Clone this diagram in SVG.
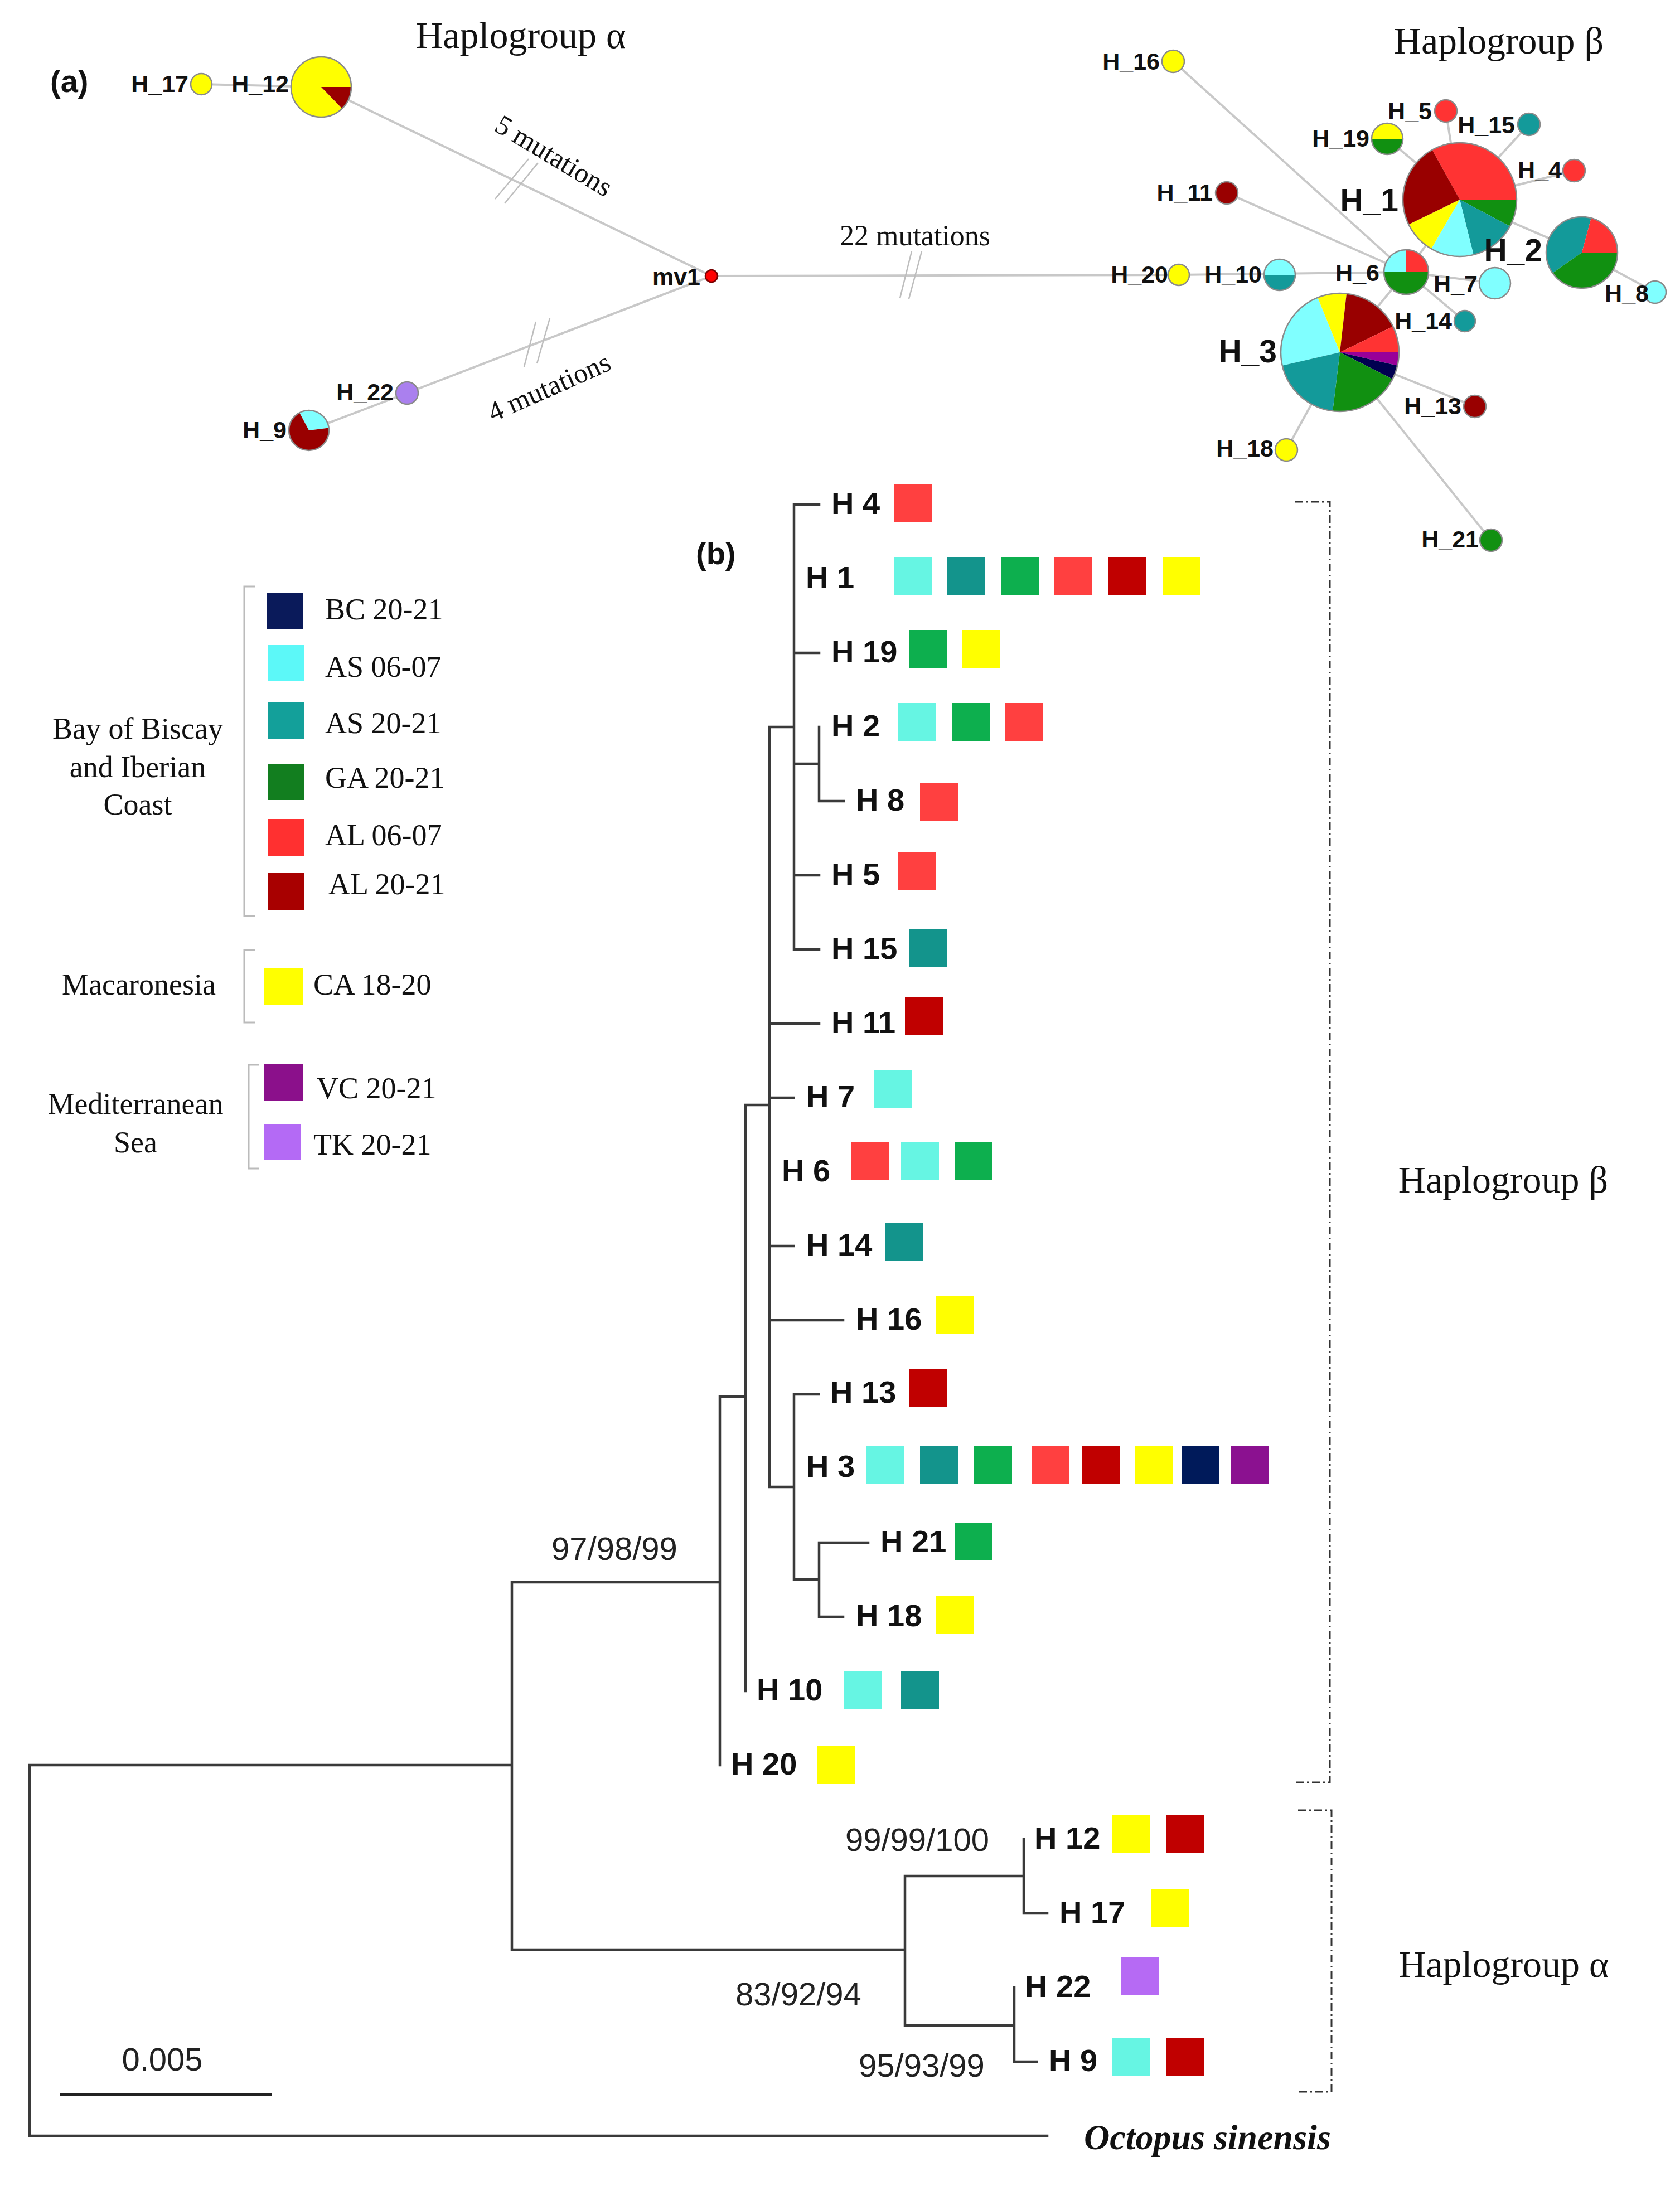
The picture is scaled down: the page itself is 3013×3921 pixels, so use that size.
<svg xmlns="http://www.w3.org/2000/svg" width="3013" height="3921" viewBox="0 0 3013 3921">
<style>
.edge{stroke:#c8c8c8;stroke-width:4;fill:none}
.slash{stroke:#bdbdbd;stroke-width:2.5;fill:none}
.pie{stroke:#8a8a8a;stroke-width:2.5}
.nl{font-family:"Liberation Sans",Arial,sans-serif;font-weight:bold;font-size:43px;fill:#111;text-anchor:end}
.nb{font-family:"Liberation Sans",Arial,sans-serif;font-weight:bold;font-size:57px;fill:#111;text-anchor:end}
.ser{font-family:"Liberation Serif","Times New Roman",serif;fill:#111}
.tl{font-family:"Liberation Sans",Arial,sans-serif;font-weight:bold;font-size:56px;fill:#111}
.bs{font-family:"Liberation Sans",Arial,sans-serif;font-size:58px;fill:#222;text-anchor:middle}
.br{stroke:#3a3a3a;stroke-width:4.5;fill:none;stroke-linecap:square}
.dd{stroke:#333;stroke-width:3;fill:none;stroke-dasharray:14 6 3 6}
.lb{stroke:#bbbbbb;stroke-width:3;fill:none}
.cR{fill:#ff3333}.cD{fill:#990000}.cG{fill:#119011}.cT{fill:#139a9a}.cC{fill:#80ffff}.cY{fill:#ffff00}.cN{fill:#000050}.cP{fill:#990099}.cL{fill:#aa80ee}
.sC{fill:#66f5e3}.sT{fill:#13948c}.sG{fill:#0daf4e}.sR{fill:#ff4040}.sD{fill:#c00000}.sY{fill:#ffff00}.sN{fill:#001a5a}.sP{fill:#8b1190}.sL{fill:#b66af4}
</style>
<rect width="3013" height="3921" fill="#ffffff"/>

<!-- ========== (a) network ========== -->
<text x="90" y="165" font-family="Liberation Sans,Arial,sans-serif" font-weight="bold" font-size="56" fill="#111">(a)</text>
<text class="ser" x="934" y="86" font-size="68" text-anchor="middle">Haplogroup α</text>
<text class="ser" x="2688" y="96" font-size="68" text-anchor="middle">Haplogroup β</text>

<g id="net-edges">
  <line class="edge" x1="361" y1="151" x2="576" y2="156"/>
  <line class="edge" x1="576" y1="156" x2="1276" y2="495"/>
  <line class="edge" x1="1276" y1="495" x2="730" y2="705"/>
  <line class="edge" x1="730" y1="705" x2="554" y2="772"/>
  <line class="edge" x1="1276" y1="495" x2="2114" y2="493"/>
  <line class="edge" x1="2114" y1="493" x2="2522" y2="488"/>
  <line class="edge" x1="2104" y1="110" x2="2522" y2="488"/>
  <line class="edge" x1="2200" y1="346" x2="2522" y2="488"/>
  <line class="edge" x1="2522" y1="488" x2="2618" y2="358"/>
  <line class="edge" x1="2488" y1="249" x2="2618" y2="358"/>
  <line class="edge" x1="2593" y1="199" x2="2618" y2="358"/>
  <line class="edge" x1="2742" y1="223" x2="2618" y2="358"/>
  <line class="edge" x1="2823" y1="306" x2="2618" y2="358"/>
  <line class="edge" x1="2618" y1="358" x2="2837" y2="453"/>
  <line class="edge" x1="2837" y1="453" x2="2968" y2="524"/>
  <line class="edge" x1="2522" y1="488" x2="2681" y2="508"/>
  <line class="edge" x1="2522" y1="488" x2="2627" y2="576"/>
  <line class="edge" x1="2522" y1="488" x2="2403" y2="632"/>
  <line class="edge" x1="2403" y1="632" x2="2645" y2="729"/>
  <line class="edge" x1="2403" y1="632" x2="2307" y2="807"/>
  <line class="edge" x1="2403" y1="632" x2="2674" y2="969"/>
  <!-- mutation break marks -->
  <line class="slash" x1="888" y1="357" x2="948" y2="285"/>
  <line class="slash" x1="905" y1="365" x2="965" y2="292"/>
  <line class="slash" x1="940" y1="658" x2="961" y2="577"/>
  <line class="slash" x1="963" y1="652" x2="986" y2="571"/>
  <line class="slash" x1="1614" y1="535" x2="1635" y2="451"/>
  <line class="slash" x1="1630" y1="536" x2="1653" y2="451"/>
  <text class="ser" font-size="50" text-anchor="middle" transform="translate(993,280) rotate(31)" dy="16">5 mutations</text>
  <text class="ser" font-size="50" text-anchor="middle" transform="translate(985,695) rotate(-24)" dy="16">4 mutations</text>
  <text class="ser" x="1641" y="440" font-size="52" text-anchor="middle">22 mutations</text>
</g>

<g id="net-mv1">
  <circle cx="1276" cy="495" r="11" fill="#ff0000" stroke="#700" stroke-width="2.5"/>
  <text class="nl" x="1256" y="511">mv1</text>
</g>
<g id="net-H_17">
  <circle class="pie cY" cx="361" cy="151" r="19"/>
  <text class="nl" x="338" y="165">H_17</text>
</g>
<g id="net-H_12">
  <path class="cY" d="M576,156 L613.5,194.8 A54,54 0 1,1 630,156 Z"/>
  <path class="cD" d="M576,156 L630,156 A54,54 0 0,1 613.5,194.8 Z"/>
  <circle class="pie" cx="576" cy="156" r="54" fill="none"/>
  <text class="nl" x="518" y="165">H_12</text>
</g>
<g id="net-H_22">
  <circle class="pie cL" cx="730" cy="705" r="20"/>
  <text class="nl" x="706" y="718">H_22</text>
</g>
<g id="net-H_9">
  <path class="cC" d="M554,772 L537.1,740.2 A36,36 0 0,1 589.7,767.6 Z"/>
  <path class="cD" d="M554,772 L589.7,767.6 A36,36 0 1,1 537.1,740.2 Z"/>
  <circle class="pie" cx="554" cy="772" r="36" fill="none"/>
  <text class="nl" x="514" y="786">H_9</text>
</g>

<g id="net-H_16">
  <circle class="pie cY" cx="2104" cy="110" r="20"/>
  <text class="nl" x="2080" y="125">H_16</text>
</g>
<g id="net-H_5">
  <circle class="pie cR" cx="2593" cy="199" r="20"/>
  <text class="nl" x="2568" y="214">H_5</text>
</g>
<g id="net-H_15">
  <circle class="pie cT" cx="2742" cy="223" r="20"/>
  <text class="nl" x="2717" y="239">H_15</text>
</g>
<g id="net-H_19">
  <path class="cY" d="M2460,249 A28,28 0 0,1 2516,249 Z"/>
  <path class="cG" d="M2460,249 A28,28 0 0,0 2516,249 Z"/>
  <circle class="pie" cx="2488" cy="249" r="28" fill="none"/>
  <text class="nl" x="2456" y="263">H_19</text>
</g>
<g id="net-H_4">
  <circle class="pie cR" cx="2823" cy="306" r="20"/>
  <text class="nl" x="2801" y="320">H_4</text>
</g>
<g id="net-H_11">
  <circle class="pie cD" cx="2200" cy="346" r="20"/>
  <text class="nl" x="2175" y="360">H_11</text>
</g>
<g id="net-H_1">
  <path class="cR" d="M2618,358 L2568.5,268.8 A102,102 0 0,1 2720,358 Z"/>
  <path class="cG" d="M2618,358 L2720,358 A102,102 0 0,1 2708.1,405.9 Z"/>
  <path class="cT" d="M2618,358 L2708.1,405.9 A102,102 0 0,1 2642.7,457 Z"/>
  <path class="cC" d="M2618,358 L2642.7,457 A102,102 0 0,1 2567,446.3 Z"/>
  <path class="cY" d="M2618,358 L2567,446.3 A102,102 0 0,1 2526.3,402.7 Z"/>
  <path class="cD" d="M2618,358 L2526.3,402.7 A102,102 0 0,1 2568.5,268.8 Z"/>
  <circle class="pie" cx="2618" cy="358" r="102" fill="none"/>
  <text class="nb" x="2508" y="379">H_1</text>
</g>
<g id="net-H_2">
  <path class="cT" d="M2837,453 L2784.6,489.7 A64,64 0 0,1 2853.6,391.2 Z"/>
  <path class="cR" d="M2837,453 L2853.6,391.2 A64,64 0 0,1 2901,453 Z"/>
  <path class="cG" d="M2837,453 L2901,453 A64,64 0 0,1 2784.6,489.7 Z"/>
  <circle class="pie" cx="2837" cy="453" r="64" fill="none"/>
  <text class="nb" x="2766" y="469" font-size="51">H_2</text>
</g>
<g id="net-H_8">
  <circle class="pie cC" cx="2968" cy="524" r="20"/>
  <text class="nl" x="2957" y="541">H_8</text>
</g>
<g id="net-H_20">
  <circle class="pie cY" cx="2114" cy="493" r="19"/>
  <text class="nl" x="2095" y="507">H_20</text>
</g>
<g id="net-H_10">
  <path class="cC" d="M2267,493 A28,28 0 0,1 2323,493 Z"/>
  <path class="cT" d="M2267,493 A28,28 0 0,0 2323,493 Z"/>
  <circle class="pie" cx="2295" cy="493" r="28" fill="none"/>
  <text class="nl" x="2263" y="507">H_10</text>
</g>
<g id="net-H_6">
  <path class="cC" d="M2522,488 L2482,488 A40,40 0 0,1 2522,448 Z"/>
  <path class="cR" d="M2522,488 L2522,448 A40,40 0 0,1 2562,488 Z"/>
  <path class="cG" d="M2482,488 A40,40 0 0,0 2562,488 Z"/>
  <circle class="pie" cx="2522" cy="488" r="40" fill="none"/>
  <text class="nl" x="2474" y="504">H_6</text>
</g>
<g id="net-H_7">
  <circle class="pie cC" cx="2681" cy="508" r="28"/>
  <text class="nl" x="2650" y="524">H_7</text>
</g>
<g id="net-H_14">
  <circle class="pie cT" cx="2627" cy="576" r="19"/>
  <text class="nl" x="2604" y="590">H_14</text>
</g>
<g id="net-H_3">
  <path class="cC" d="M2403,632 L2299.7,655.8 A106,106 0 0,1 2363.3,533.7 Z"/>
  <path class="cY" d="M2403,632 L2363.3,533.7 A106,106 0 0,1 2415,526.7 Z"/>
  <path class="cD" d="M2403,632 L2415,526.7 A106,106 0 0,1 2498.3,585.5 Z"/>
  <path class="cR" d="M2403,632 L2498.3,585.5 A106,106 0 0,1 2509,632 Z"/>
  <path class="cP" d="M2403,632 L2509,632 A106,106 0 0,1 2506.3,655.8 Z"/>
  <path class="cN" d="M2403,632 L2506.3,655.8 A106,106 0 0,1 2497.4,680.1 Z"/>
  <path class="cG" d="M2403,632 L2497.4,680.1 A106,106 0 0,1 2390.1,737.2 Z"/>
  <path class="cT" d="M2403,632 L2390.1,737.2 A106,106 0 0,1 2299.7,655.8 Z"/>
  <circle class="pie" cx="2403" cy="632" r="106" fill="none"/>
  <text class="nb" x="2290" y="650" font-size="59">H_3</text>
</g>
<g id="net-H_13">
  <circle class="pie cD" cx="2645" cy="729" r="20"/>
  <text class="nl" x="2621" y="743">H_13</text>
</g>
<g id="net-H_18">
  <circle class="pie cY" cx="2307" cy="807" r="20"/>
  <text class="nl" x="2284" y="819">H_18</text>
</g>
<g id="net-H_21">
  <circle class="pie cG" cx="2674" cy="969" r="20"/>
  <text class="nl" x="2652" y="982">H_21</text>
</g>

<!-- ========== legend ========== -->
<g id="legend">
  <path class="lb" d="M458,1052 H438 V1643 H458"/>
  <path class="lb" d="M458,1704 H438 V1834 H458"/>
  <path class="lb" d="M464,1910 H446 V2096 H464"/>
  <g class="ser" font-size="54" text-anchor="middle">
    <text x="247" y="1325">Bay of Biscay</text>
    <text x="247" y="1394">and Iberian</text>
    <text x="247" y="1461">Coast</text>
    <text x="249" y="1784">Macaronesia</text>
    <text x="243" y="1998">Mediterranean</text>
    <text x="243" y="2067">Sea</text>
  </g>
  <rect x="478" y="1064" width="65" height="65" fill="#0a1a5a"/>
  <rect x="481" y="1157" width="65" height="65" fill="#5cf8f8"/>
  <rect x="481" y="1260" width="65" height="66" fill="#13a09a"/>
  <rect x="481" y="1370" width="65" height="65" fill="#127e1f"/>
  <rect x="481" y="1469" width="65" height="67" fill="#ff3030"/>
  <rect x="481" y="1566" width="65" height="67" fill="#a80000"/>
  <rect x="474" y="1737" width="69" height="65" fill="#ffff00"/>
  <rect x="474" y="1909" width="69" height="65" fill="#8b108b"/>
  <rect x="474" y="2016" width="65" height="64" fill="#b46af5"/>
  <g class="ser" font-size="54" fill="#333">
    <text x="583" y="1111">BC 20-21</text>
    <text x="583" y="1214">AS 06-07</text>
    <text x="583" y="1315">AS 20-21</text>
    <text x="583" y="1413">GA 20-21</text>
    <text x="583" y="1516">AL 06-07</text>
    <text x="589" y="1604">AL 20-21</text>
    <text x="562" y="1784">CA 18-20</text>
    <text x="568" y="1970">VC 20-21</text>
    <text x="562" y="2071">TK 20-21</text>
  </g>
</g>

<!-- ========== (b) tree ========== -->
<text x="1248" y="1012" font-family="Liberation Sans,Arial,sans-serif" font-weight="bold" font-size="56" fill="#111">(b)</text>

<g id="tree-branches">
  <path class="br" d="M53,3166 V3831 M53,3166 H918 M53,3831 H1878
  M918,2838 V3497 M918,2838 H1291 M918,3497 H1623
  M1291,2505 V3166 M1291,2505 H1337
  M1337,1982 V3033 M1337,1982 H1380
  M1380,1304 V2667 M1380,1304 H1424
  M1424,905 V1703 M1424,905 H1469 M1424,1171 H1469 M1424,1370 H1469
  M1469,1304 V1437 M1469,1437 H1513 M1424,1570 H1469 M1424,1703 H1469
  M1380,1836 H1469 M1380,1969 H1423 M1380,2235 H1423 M1380,2368 H1512
  M1380,2667 H1424 M1424,2501 V2833 M1424,2501 H1468 M1424,2833 H1469
  M1469,2767 V2900 M1469,2767 H1557 M1469,2900 H1512
  M1623,3365 V3633 M1623,3365 H1836 M1836,3299 V3432 M1836,3432 H1878
  M1623,3633 H1819 M1819,3565 V3698 M1819,3698 H1859"/>
  <line x1="107" y1="3757" x2="488" y2="3757" stroke="#222" stroke-width="4"/>
  <text class="bs" x="291" y="3714">0.005</text>
  <text class="bs" x="1102" y="2798">97/98/99</text>
  <text class="bs" x="1645" y="3320">99/99/100</text>
  <text class="bs" x="1432" y="3597">83/92/94</text>
  <text class="bs" x="1653" y="3725">95/93/99</text>
  <path class="dd" d="M2322,900 H2385 V3197 H2322"/>
  <path class="dd" d="M2328,3247 H2388 V3752 H2328"/>
  <text class="ser" x="2696" y="2139" font-size="68" text-anchor="middle">Haplogroup β</text>
  <text class="ser" x="2697" y="3546" font-size="68" text-anchor="middle">Haplogroup α</text>
</g>

<g id="tree-H4"><text class="tl" x="1491" y="922">H 4</text><rect class="sR" x="1603" y="868" width="68" height="68"/></g>
<g id="tree-H1"><text class="tl" x="1445" y="1055">H 1</text>
  <rect class="sC" x="1603" y="999" width="68" height="68"/><rect class="sT" x="1699" y="999" width="68" height="68"/><rect class="sG" x="1795" y="999" width="68" height="68"/><rect class="sR" x="1891" y="999" width="68" height="68"/><rect class="sD" x="1987" y="999" width="68" height="68"/><rect class="sY" x="2085" y="999" width="68" height="68"/></g>
<g id="tree-H19"><text class="tl" x="1491" y="1188">H 19</text><rect class="sG" x="1630" y="1130" width="68" height="68"/><rect class="sY" x="1726" y="1130" width="68" height="68"/></g>
<g id="tree-H2"><text class="tl" x="1491" y="1321">H 2</text><rect class="sC" x="1610" y="1261" width="68" height="68"/><rect class="sG" x="1707" y="1261" width="68" height="68"/><rect class="sR" x="1803" y="1261" width="68" height="68"/></g>
<g id="tree-H8"><text class="tl" x="1535" y="1454">H 8</text><rect class="sR" x="1650" y="1405" width="68" height="68"/></g>
<g id="tree-H5"><text class="tl" x="1491" y="1587">H 5</text><rect class="sR" x="1610" y="1528" width="68" height="68"/></g>
<g id="tree-H15"><text class="tl" x="1491" y="1720">H 15</text><rect class="sT" x="1630" y="1666" width="68" height="68"/></g>
<g id="tree-H11"><text class="tl" x="1491" y="1853">H 11</text><rect class="sD" x="1623" y="1789" width="68" height="68"/></g>
<g id="tree-H7"><text class="tl" x="1446" y="1986">H 7</text><rect class="sC" x="1568" y="1919" width="68" height="68"/></g>
<g id="tree-H6"><text class="tl" x="1402" y="2119">H 6</text><rect class="sR" x="1527" y="2049" width="68" height="68"/><rect class="sC" x="1616" y="2049" width="68" height="68"/><rect class="sG" x="1712" y="2049" width="68" height="68"/></g>
<g id="tree-H14"><text class="tl" x="1446" y="2252">H 14</text><rect class="sT" x="1588" y="2194" width="68" height="68"/></g>
<g id="tree-H16"><text class="tl" x="1535" y="2385">H 16</text><rect class="sY" x="1679" y="2325" width="68" height="68"/></g>
<g id="tree-H13"><text class="tl" x="1489" y="2516">H 13</text><rect class="sD" x="1630" y="2456" width="68" height="68"/></g>
<g id="tree-H3"><text class="tl" x="1446" y="2649">H 3</text>
  <rect class="sC" x="1554" y="2593" width="68" height="68"/><rect class="sT" x="1650" y="2593" width="68" height="68"/><rect class="sG" x="1747" y="2593" width="68" height="68"/><rect class="sR" x="1850" y="2593" width="68" height="68"/><rect class="sD" x="1940" y="2593" width="68" height="68"/><rect class="sY" x="2035" y="2593" width="68" height="68"/><rect class="sN" x="2119" y="2593" width="68" height="68"/><rect class="sP" x="2208" y="2593" width="68" height="68"/></g>
<g id="tree-H21"><text class="tl" x="1579" y="2784">H 21</text><rect class="sG" x="1712" y="2731" width="68" height="68"/></g>
<g id="tree-H18"><text class="tl" x="1535" y="2917">H 18</text><rect class="sY" x="1679" y="2863" width="68" height="68"/></g>
<g id="tree-H10"><text class="tl" x="1357" y="3050">H 10</text><rect class="sC" x="1513" y="2997" width="68" height="68"/><rect class="sT" x="1616" y="2997" width="68" height="68"/></g>
<g id="tree-H20"><text class="tl" x="1311" y="3183">H 20</text><rect class="sY" x="1466" y="3132" width="68" height="68"/></g>
<g id="tree-H12"><text class="tl" x="1855" y="3316">H 12</text><rect class="sY" x="1995" y="3256" width="68" height="68"/><rect class="sD" x="2091" y="3256" width="68" height="68"/></g>
<g id="tree-H17"><text class="tl" x="1900" y="3449">H 17</text><rect class="sY" x="2064" y="3388" width="68" height="68"/></g>
<g id="tree-H22"><text class="tl" x="1838" y="3582">H 22</text><rect class="sL" x="2010" y="3511" width="68" height="68"/></g>
<g id="tree-H9"><text class="tl" x="1881" y="3715">H 9</text><rect class="sC" x="1995" y="3656" width="68" height="68"/><rect class="sD" x="2091" y="3656" width="68" height="68"/></g>
<g id="tree-outgroup"><text x="1944" y="3855" font-family="Liberation Serif,Times New Roman,serif" font-weight="bold" font-style="italic" font-size="64" fill="#111">Octopus sinensis</text></g>
</svg>
